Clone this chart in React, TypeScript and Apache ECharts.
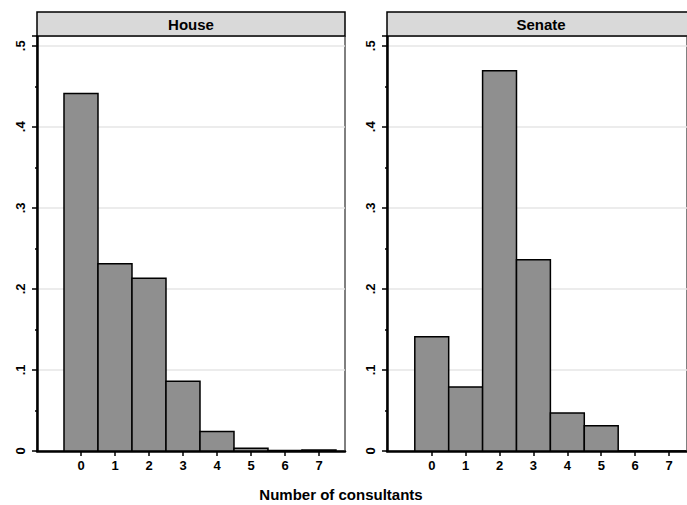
import React, { useEffect, useRef } from "react";
import * as echarts from "echarts";

const categories = [0, 1, 2, 3, 4, 5, 6, 7];
const houseValues = [0.441, 0.231, 0.213, 0.086, 0.024, 0.0035, 0.0006, 0.0012];
const senateValues = [0.141, 0.079, 0.469, 0.236, 0.047, 0.031, 0, 0];
const panelTitles = ["House", "Senate"];
const xTitle = "Number of consultants";

const FONT = "'Liberation Sans', Arial, Helvetica, sans-serif";

export default function App() {
  const ref = useRef<HTMLDivElement>(null);
  useEffect(() => {
    if (!ref.current) return;
    const chart = echarts.init(ref.current, undefined, { renderer: "svg" });
    const grids = [
      { left: 37, top: 36, width: 308, bottom: 54 },
      { left: 387, top: 36, width: 301, bottom: 54 },
    ];
    const xRanges = [
      [-1.294, 7.765],
      [-1.32, 7.53],
    ];
    const fmt = (v: number) => {
      const r = Math.round(v * 10) / 10;
      if (r === 0) return "0";
      return String(r).replace(/^0/, "");
    };
    const renderItem = (params: any, api: any) => {
      const x = api.value(0);
      const y = api.value(1);
      const p0 = api.coord([x - 0.5, y]);
      const p1 = api.coord([x + 0.5, 0]);
      return {
        type: "rect",
        shape: { x: p0[0], y: p0[1], width: p1[0] - p0[0], height: p1[1] - p0[1] },
        style: { fill: "#8f8f8f", stroke: "#000", lineWidth: 1.5 },
      };
    };
    const xAxes = [0, 1].map((i) => ({
      type: "value",
      gridIndex: i,
      min: xRanges[i][0],
      max: xRanges[i][1],
      splitLine: { show: false },
      axisLine: { show: true, onZero: false, lineStyle: { color: "#000", width: 2.5 } },
      axisTick: { show: true, customValues: categories, length: 5, lineStyle: { color: "#000", width: 1.5 } },
      axisLabel: {
        show: true,
        customValues: categories,
        color: "#000",
        fontFamily: FONT,
        fontWeight: "bold",
        fontSize: 13,
        margin: 8,
      },
    }));
    const yAxes = [0, 1].map((i) => ({
      type: "value",
      gridIndex: i,
      min: 0,
      max: 0.512,
      interval: 0.1,
      axisLine: { show: true, onZero: false, lineStyle: { color: "#000", width: 2.5 } },
      axisTick: { show: true, length: 5, lineStyle: { color: "#000", width: 1.5 } },
      minorTick: { show: true, splitNumber: 2, length: 2, lineStyle: { color: "#000", width: 1.5 } },
      splitLine: { show: true, lineStyle: { color: "#e6e6e6", width: 1.5 } },
      axisLabel: {
        show: true,
        rotate: 90,
        formatter: fmt,
        color: "#000",
        fontFamily: FONT,
        fontWeight: "bold",
        fontSize: 13,
        margin: 10,
        showMaxLabel: false,
      },
    }));
    const data = [houseValues, senateValues].map((vals) =>
      categories.map((c, k) => [c, vals[k]])
    );
    const graphic: any[] = [];
    const titleCenters = [191, 541];
    grids.forEach((g, i) => {
      graphic.push({
        type: "rect",
        shape: { x: g.left, y: 12, width: i === 0 ? g.width : g.width + 20, height: 24 },
        style: { fill: "#d9d9d9", stroke: "#000", lineWidth: 1.5 },
        z: 10,
      });
      graphic.push({
        type: "text",
        x: titleCenters[i],
        y: 24,
        style: {
          text: panelTitles[i],
          fill: "#000",
          font: `bold 15px ${FONT}`,
          textAlign: "center",
          textVerticalAlign: "middle",
        },
        z: 11,
      });
    });
    graphic.push({
      type: "text",
      x: 341,
      y: 494,
      style: {
        text: xTitle,
        fill: "#000",
        font: `bold 15px ${FONT}`,
        textAlign: "center",
        textVerticalAlign: "middle",
      },
    });
    chart.setOption({
      animation: false,
      backgroundColor: "#fff",
      grid: grids.map((g) => ({ ...g, show: true, borderColor: "#000", borderWidth: 1, backgroundColor: "transparent" })),
      xAxis: xAxes,
      yAxis: yAxes,
      graphic,
      series: [0, 1].map((i) => ({
        type: "custom",
        xAxisIndex: i,
        yAxisIndex: i,
        renderItem,
        data: data[i],
        encode: { x: 0, y: 1 },
        z: 5,
      })),
    });
    return () => chart.dispose();
  }, []);
  return (
    <div
      ref={ref}
      style={{ position: "fixed", left: 0, top: 0, width: 687, height: 505, overflow: "hidden" }}
    />
  );
}
